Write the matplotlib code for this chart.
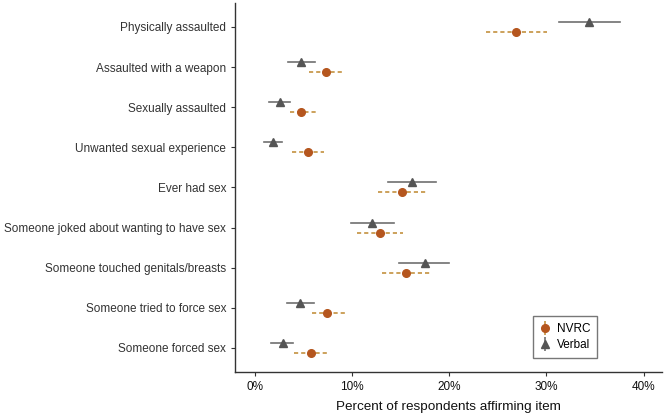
import numpy as np
import matplotlib
matplotlib.use("Agg")
import matplotlib.pyplot as plt
from matplotlib.lines import Line2D
from matplotlib.legend_handler import HandlerTuple
from matplotlib.ticker import PercentFormatter

plt.rcParams['font.family'] = ['Liberation Sans', 'DejaVu Sans']

# Data (percent of respondents, with 95% CI)
items = ["Physically assaulted", "Assaulted with a weapon", "Sexually assaulted",
         "Unwanted sexual experience", "Ever had sex",
         "Someone joked about wanting to have sex", "Someone touched genitals/breasts",
         "Someone tried to force sex", "Someone forced sex"]

nvrc = [26.9, 7.3, 4.8, 5.5, 15.2, 12.9, 15.6, 7.5, 5.8]
nvrc_lo = [23.8, 5.6, 3.7, 3.9, 12.7, 10.5, 13.1, 5.9, 4.1]
nvrc_hi = [30.1, 9.2, 6.4, 7.1, 17.8, 15.3, 18.3, 9.5, 7.5]

verbal = [34.4, 4.8, 2.6, 1.9, 16.2, 12.1, 17.5, 4.7, 2.9]
verbal_lo = [31.3, 3.4, 1.5, 1.0, 13.7, 9.9, 14.9, 3.3, 1.7]
verbal_hi = [37.6, 6.2, 3.6, 2.8, 18.7, 14.3, 20.0, 6.1, 4.0]

nvrc_col = '#B5561E'
nvrc_bar = '#C4913F'
verbal_col = '#555555'
verbal_bar = '#707070'

fig = plt.figure(figsize=(6.64, 4.17), dpi=100)
ax = fig.add_axes([0.354, 0.108, 0.643, 0.885])

y = np.arange(len(items))[::-1]
dodge = 0.125

# NVRC
for yi, lo, hi in zip(y, nvrc_lo, nvrc_hi):
    ax.plot([lo, hi], [yi - dodge, yi - dodge], color=nvrc_bar, lw=1.2,
            dashes=(2.5, 1.8), dash_capstyle='butt')
ax.plot(nvrc, y - dodge, 'o', color=nvrc_col, markersize=5.5, zorder=3)

# Verbal
for yi, lo, hi in zip(y, verbal_lo, verbal_hi):
    ax.plot([lo, hi], [yi + dodge, yi + dodge], color=verbal_bar, lw=1.2)
ax.plot(verbal, y + dodge, '^', color=verbal_col, markersize=5.5, zorder=3)

ax.set_yticks(y)
ax.set_yticklabels(items, fontsize=8.5, color='#111111')
ax.set_ylim(-0.6, 8.6)
ax.set_xlim(-2, 41.9)
ax.set_xticks([0, 10, 20, 30, 40])
ax.xaxis.set_major_formatter(PercentFormatter(decimals=0))
ax.tick_params(axis='x', labelsize=8.5, colors='#333333', length=3, width=0.8)
ax.tick_params(axis='y', colors='#333333', length=3, width=0.8)
for lab in ax.get_xticklabels():
    lab.set_color('#111111')
ax.set_xlabel("Percent of respondents affirming item", fontsize=9.7, color='#111111',
              labelpad=6)

for s in ['top', 'right']:
    ax.spines[s].set_visible(False)
for s in ['left', 'bottom']:
    ax.spines[s].set_color('#333333')
    ax.spines[s].set_linewidth(1.0)

h_nvrc = (Line2D([], [], marker='|', color=nvrc_bar, markersize=10, ls='None', mew=1.2),
          Line2D([], [], marker='o', color=nvrc_col, markersize=5.5, ls='None'))
h_verb = (Line2D([], [], marker='|', color=verbal_bar, markersize=10, ls='None', mew=1.2),
          Line2D([], [], marker='^', color=verbal_col, markersize=5.5, ls='None'))
leg = ax.legend([h_nvrc, h_verb], ["NVRC", "Verbal"],
                handler_map={tuple: HandlerTuple(ndivide=1)},
                loc='lower left', bbox_to_anchor=(0.698, 0.038), borderaxespad=0,
                fontsize=8.5, fancybox=False, handlelength=0.9, handletextpad=0.5,
                labelspacing=0.3, borderpad=0.6)
leg.get_frame().set_edgecolor('#555555')
leg.get_frame().set_linewidth(1.0)

fig.savefig("out.png", dpi=100)
